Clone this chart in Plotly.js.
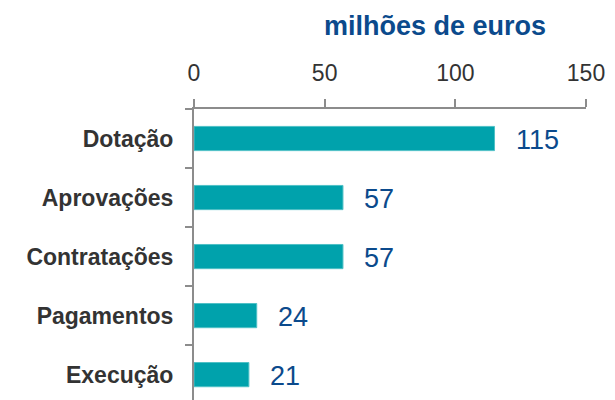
<!DOCTYPE html>
<html>
<head>
<meta charset="utf-8">
<script src="https://cdn.plot.ly/plotly-3.0.1.min.js"></script>
<style>html,body{margin:0;padding:0;background:#fff;}#chart{width:615px;height:400px;}</style>
</head>
<body>
<div id="chart"></div>
<script>
const categories = ["Dotação", "Aprovações", "Contratações", "Pagamentos", "Execução"];
const values = [115, 57, 57, 24, 21];
const xTicks = [0, 50, 100, 150];
const titleText = "milhões de euros";

const sans = '"Liberation Sans", Arial, sans-serif';
const blue = '#0b4a8c';
const axisGray = '#8c8c8c';

const trace = {
  type: 'bar',
  orientation: 'h',
  x: values,
  y: categories,
  width: 0.41,
  marker: {color: '#00a2ac', line: {color: '#4fc0c6', width: 1}},
  hoverinfo: 'none'
};

const annotations = values.map((v, i) => ({
  x: v, y: categories[i], xref: 'x', yref: 'y',
  text: String(v), showarrow: false,
  xanchor: 'left', yanchor: 'middle', xshift: 19, yshift: -1,
  font: {family: sans, size: 27, color: blue}
}));

const layout = {
  width: 615, height: 400,
  margin: {l: 194, r: 29, t: 109, b: 0, pad: 0},
  paper_bgcolor: '#fff', plot_bgcolor: '#fff',
  showlegend: false,
  title: {
    text: '<b>' + titleText + '</b>',
    font: {family: sans, size: 27, color: blue},
    xref: 'paper', x: 0.615, xanchor: 'center',
    yref: 'container', y: 0.935, yanchor: 'middle'
  },
  xaxis: {
    side: 'top', range: [0, 150], tickvals: xTicks, ticktext: xTicks.map(String),
    showgrid: false, zeroline: false,
    showline: true, linecolor: axisGray, linewidth: 2,
    ticks: 'outside', ticklen: 8, tickwidth: 2, tickcolor: axisGray,
    tickfont: {family: sans, size: 23, color: '#333'},
    ticklabelstandoff: 9
  },
  yaxis: {
    type: 'category', categoryorder: 'array', categoryarray: categories,
    range: [4.43, -0.5],
    showgrid: false, zeroline: false,
    showline: true, linecolor: axisGray, linewidth: 2,
    ticks: 'outside', tickson: 'boundaries', ticklen: 7, tickwidth: 2, tickcolor: axisGray,
    tickfont: {family: sans, size: 23, color: '#333', weight: 'bold'},
    ticklabelstandoff: 14
  },
  annotations: annotations
};

Plotly.newPlot('chart', [trace], layout, {staticPlot: true, displayModeBar: false});
</script>
</body>
</html>
